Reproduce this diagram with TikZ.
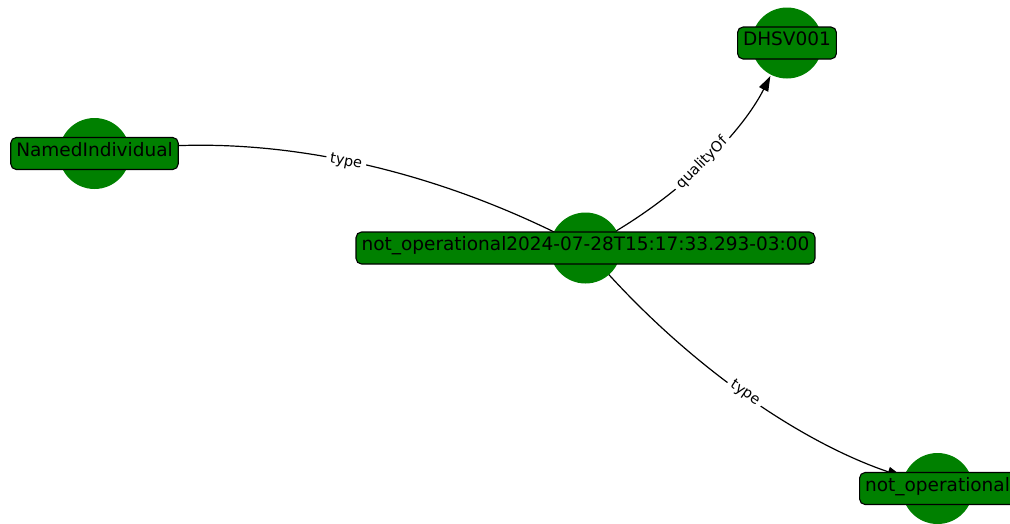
\documentclass[tikz,border=0pt]{standalone}
\usepackage{fontspec}
\setmainfont{DejaVu Sans}
\usetikzlibrary{arrows.meta,calc}
\definecolor{nodegreen}{RGB}{0,128,0}
\pgfdeclarelayer{background}
\pgfsetlayers{background,main}
\begin{document}
\begin{tikzpicture}[x=1pt,y=-1pt,
  dot/.style={circle,fill=nodegreen,minimum size=71pt,inner sep=0pt},
  lbl/.style={draw=black,line width=1.1pt,fill=nodegreen,rounded corners=5.5pt,
    inner xsep=5.5pt,inner ysep=0pt,minimum height=32pt,
    text height=0.8em,text depth=0.22em,font=\fontsize{18.5}{22}\selectfont},
  link/.style={line width=1.2pt,black,shorten >=37pt},
  arr/.style={-{Triangle[length=15pt,width=10pt]}},
  elbl/.style={sloped,fill=white,inner sep=4pt,rounded corners=4pt,
    font=\fontsize{14.5}{17}\selectfont}]

\useasboundingbox (0,0) rectangle (1010,523);
\clip (0,0) rectangle (1010,523);

% node discs
\node[dot] (ni) at (94.5,153.5) {};
\node[dot] (dh) at (787,43) {};
\node[dot] (c)  at (585.5,248) {};
\node[dot] (no) at (937.5,488.5) {};

% control points of the arcs
\coordinate (k1) at (352,123.25);
\coordinate (k2) at (717.75,180.5);
\coordinate (k3) at (728.5,417.75);

% connectors, kept under the discs
\begin{pgfonlayer}{background}
\draw[link] (c.center) .. controls ($(c.center)!2/3!(k1)$) and ($(ni.center)!2/3!(k1)$) .. (ni.center)
  node[elbl,pos=0.5] (t1) {type};
\draw[link,arr] (c.center) .. controls ($(c.center)!2/3!(k2)$) and ($(dh.center)!2/3!(k2)$) .. (dh.center)
  node[elbl,pos=0.5] (t2) {qualityOf};
\draw[link,arr] (c.center) .. controls ($(c.center)!2/3!(k3)$) and ($(no.center)!2/3!(k3)$) .. (no.center)
  node[elbl,pos=0.5] (t3) {type};
\end{pgfonlayer}

% name boxes
\node[lbl] (ni-l) at (94.5,153.5) {NamedIndividual};
\node[lbl] (dh-l) at (787,43) {DHSV001};
\node[lbl] (c-l)  at (585.5,248) {not\_operational2024-07-28T15:17:33.293-03:00};
\node[lbl] (no-l) at (937.5,488.5) {not\_operational};
\end{tikzpicture}
\end{document}
